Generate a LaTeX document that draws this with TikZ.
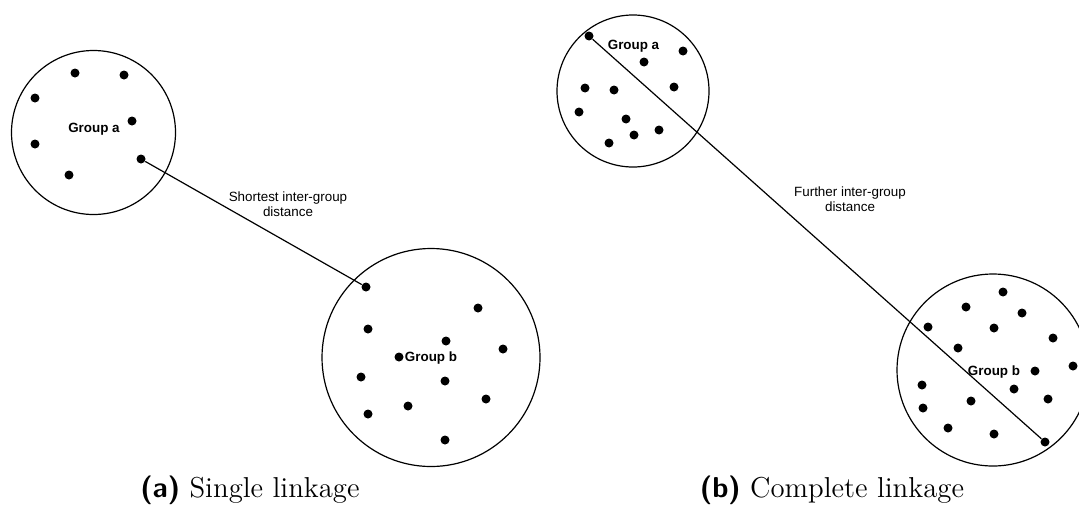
\documentclass[tikz,border=0pt]{standalone}
\usepackage{fontspec}
\newfontfamily\arialfont{Liberation Sans}

\begin{document}
\begin{tikzpicture}[x=0.5pt, y=-0.5pt,
  dot/.style={circle, fill=black, inner sep=0pt, minimum size=4.5pt},
  grp/.style={line width=0.6pt},
  link/.style={line width=0.6pt},
  glabel/.style={font=\arialfont\bfseries\fontsize{6.7}{8}\selectfont},
  dlabel/.style={font=\arialfont\fontsize{6.7}{7.6}\selectfont, align=center},
  subcap/.style={font=\Large}]

  \useasboundingbox (0,0) rectangle (1079,509);

  % --- (a) single linkage ---
  \draw[grp] (93.5,132.5) circle (41pt);
  \draw[grp] (431,357.5) circle (54.5pt);

  \foreach \p [count=\i] in {(75,73),(124,75),(35,98),(132,121),(35,144),(141,159),(69,175)}
    \node[dot] (sa\i) at \p {};
  \foreach \p [count=\i] in {(366,287),(478,308),(368,329),(446,341),(503,349),(399,357),
                            (361,377),(445,381),(486,399),(408,406),(368,414),(445,440)}
    \node[dot] (sb\i) at \p {};

  \node[glabel] (saname) at (94,129) {Group a};
  \node[glabel] (sbname) at (431,358) {Group b};

  \draw[link] (sa6) -- (sb1);
  \node[dlabel] (sdist) at (288,204) {Shortest inter-group\\distance};

  % --- (b) complete linkage ---
  \draw[grp] (633,91) circle (38pt);
  \draw[grp] (993,370) circle (48pt);

  \foreach \p [count=\i] in {(589,36),(683,51),(644,62),(585,88),(614,90),(674,87),
                            (579,112),(626,119),(659,130),(634,135),(609,143)}
    \node[dot] (ca\i) at \p {};
  \foreach \p [count=\i] in {(1003,292),(966,307),(1022,313),(928,327),(994,328),(1053,338),
                            (958,348),(1073,366),(1035,371),(922,385),(1014,389),(1048,399),
                            (971,401),(923,408),(948,428),(994,434),(1045,442)}
    \node[dot] (cb\i) at \p {};

  \node[glabel] (caname) at (633.5,46) {Group a};
  \node[glabel] (cbname) at (994,372) {Group b};

  \draw[link] (ca1) -- (cb17);
  \node[dlabel] (cdist) at (850,199) {Further inter-group\\distance};

  % sub-captions
  \node[subcap] (capa) at (250,490) {\textsf{\textbf{(a)}} Single linkage};
  \node[subcap] (capb) at (832,490) {\textsf{\textbf{(b)}} Complete linkage};

\end{tikzpicture}
\end{document}
